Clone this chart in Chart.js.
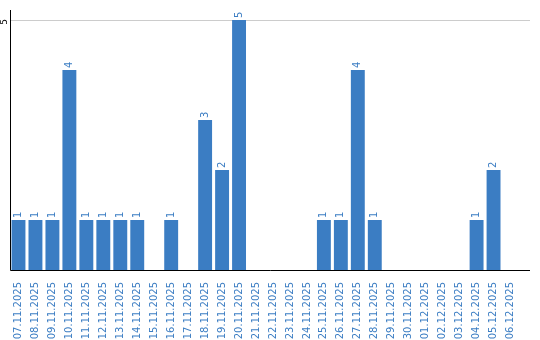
<!DOCTYPE html>
<html>
<head>
<meta charset="utf-8">
<script src="https://cdn.jsdelivr.net/npm/chart.js@4.4.1/dist/chart.umd.min.js"></script>
<style>
  html, body { margin: 0; padding: 0; background: #fff; }
  #wrap { width: 540px; height: 340px; }
</style>
</head>
<body>
<div id="wrap"><canvas id="chart"></canvas></div>
<script>
// Daily counts
const days = ['07.11.2025', '08.11.2025', '09.11.2025', '10.11.2025', '11.11.2025', '12.11.2025',
    '13.11.2025', '14.11.2025', '15.11.2025', '16.11.2025', '17.11.2025', '18.11.2025',
    '19.11.2025', '20.11.2025', '21.11.2025', '22.11.2025', '23.11.2025', '24.11.2025',
    '25.11.2025', '26.11.2025', '27.11.2025', '28.11.2025', '29.11.2025', '30.11.2025',
    '01.12.2025', '02.12.2025', '03.12.2025', '04.12.2025', '05.12.2025', '06.12.2025'];
const counts = [1, 1, 1, 4, 1, 1, 1, 1, 0, 1, 0, 3, 2, 5, 0, 0, 0, 0, 1, 1, 4, 1, 0, 0, 0, 0, 0, 1, 2, 0];
const yTicks = [5];

const blue = '#3b7dc3';
const lineEnd = 530;

// gridline + axis lines drawn wider than the plot area, like the original
const axes = {
    id: 'axes',
    beforeDatasetsDraw(chart) {
        const ctx = chart.ctx;
        const y = chart.scales.y;
        const area = chart.chartArea;
        ctx.save();
        ctx.lineWidth = 1;
        ctx.strokeStyle = '#cccccc';
        yTicks.forEach(v => {
            const py = Math.round(y.getPixelForValue(v)) + 0.5;
            ctx.beginPath();
            ctx.moveTo(area.left, py);
            ctx.lineTo(lineEnd, py);
            ctx.stroke();
        });
        ctx.restore();
    },
    afterDatasetsDraw(chart) {
        const ctx = chart.ctx;
        const meta = chart.getDatasetMeta(0);
        const y = chart.scales.y;
        const area = chart.chartArea;
        ctx.save();
        // value labels
        ctx.fillStyle = blue;
        ctx.font = '10px "DejaVu Sans"';
        ctx.textAlign = 'left';
        ctx.textBaseline = 'middle';
        meta.data.forEach((bar, i) => {
            if (!counts[i]) return;
            ctx.save();
            ctx.translate(bar.x, bar.y - 2);
            ctx.rotate(-Math.PI / 2);
            ctx.fillText(String(counts[i]), 0, 0);
            ctx.restore();
        });
        // rotated y tick
        ctx.fillStyle = '#000';
        ctx.font = '9px "DejaVu Sans"';
        ctx.textAlign = 'center';
        yTicks.forEach(v => {
            ctx.save();
            ctx.translate(5, y.getPixelForValue(v) + 2);
            ctx.rotate(-Math.PI / 2);
            ctx.fillText(String(v), 0, 0);
            ctx.restore();
        });
        // axes
        const x0 = Math.round(area.left) + 0.5;
        const yb = Math.round(area.bottom) + 0.5;
        ctx.strokeStyle = '#000';
        ctx.lineWidth = 1;
        ctx.beginPath();
        ctx.moveTo(x0, Math.round(area.top));
        ctx.lineTo(x0, yb);
        ctx.lineTo(lineEnd, yb);
        ctx.stroke();
        ctx.restore();
    }
};

window.addEventListener('load', () => {
    new Chart(document.getElementById('chart'), {
        type: 'bar',
        data: {
            labels: days,
            datasets: [{
                data: counts,
                backgroundColor: blue,
                borderWidth: 0,
                categoryPercentage: 1,
                barPercentage: 0.82
            }]
        },
        options: {
            responsive: true,
            maintainAspectRatio: false,
            animation: false,
            layout: { padding: { top: 10, right: 21, left: 0, bottom: 0 } },
            plugins: { legend: { display: false }, tooltip: { enabled: false } },
            scales: {
                x: {
                    grid: { display: false },
                    border: { display: false },
                    afterFit: s => { s.height = 70; },
                    ticks: {
                        color: blue,
                        font: { family: 'DejaVu Sans', size: 10 },
                        minRotation: 90,
                        maxRotation: 90,
                        autoSkip: false,
                        padding: 4
                    }
                },
                y: {
                    min: 0,
                    max: 5.2,
                    afterFit: s => { s.width = 10; },
                    afterBuildTicks: s => { s.ticks = yTicks.map(v => ({ value: v })); },
                    border: { display: false },
                    grid: { display: false },
                    ticks: { display: false }
                }
            }
        },
        plugins: [axes]
    });
});
</script>
</body>
</html>
